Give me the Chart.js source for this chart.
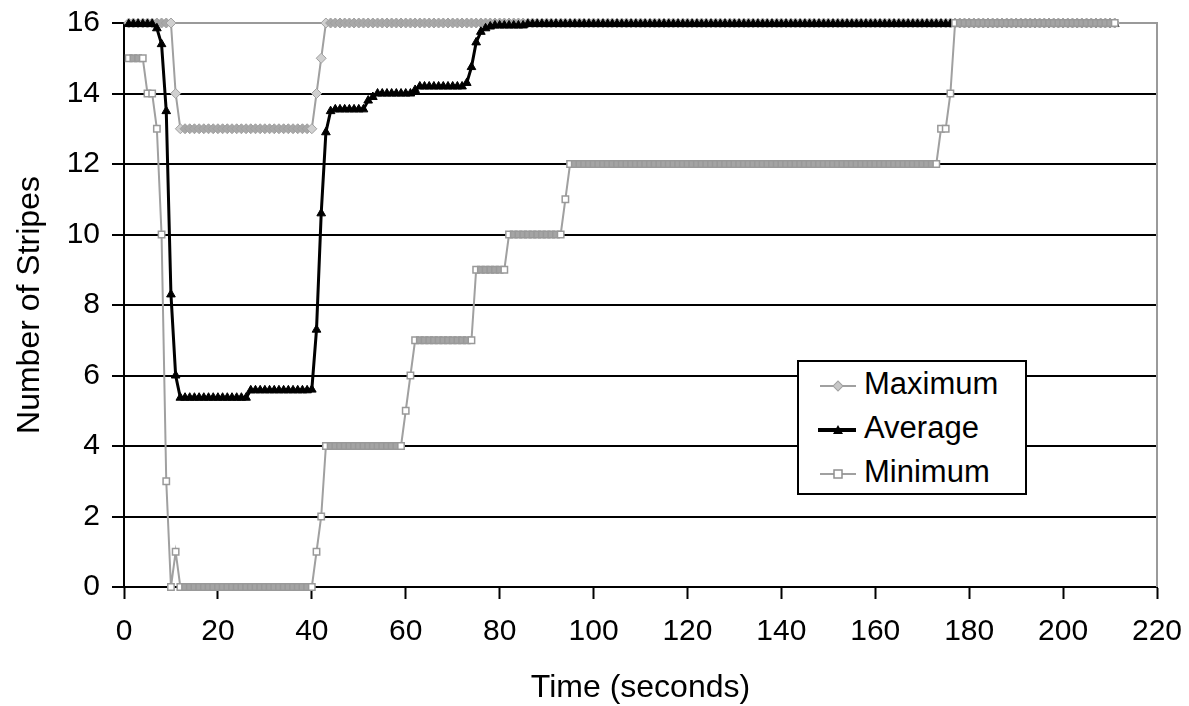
<!DOCTYPE html>
<html>
<head>
<meta charset="utf-8">
<title>Number of Stripes over time</title>
<script src="https://cdn.jsdelivr.net/npm/chart.js@4/dist/chart.umd.min.js"></script>
<style>
  html, body { margin: 0; padding: 0; background: #fff; }
  #wrap { position: relative; width: 1189px; height: 706px; }
  #legend {
    position: absolute; left: 797px; top: 360px; width: 226px; height: 131px;
    border: 2px solid #000; background: #fff;
    font-family: "Liberation Sans", Arial, sans-serif; font-size: 31px; color: #000;
  }
  #legend div { height: 44px; line-height: 44px; white-space: nowrap; }
  #legend svg { vertical-align: middle; margin-left: 19px; margin-right: 6px; }
</style>
</head>
<body>
<div id="wrap">
  <canvas id="stripesChart" width="1189" height="706"></canvas>
  <div id="legend">
    <div><svg width="40" height="20"><line x1="2" y1="10" x2="38" y2="10" stroke="#a0a0a0" stroke-width="2"/><rect x="16.5" y="6.5" width="7" height="7" fill="#c8c8c8" stroke="#a0a0a0" transform="rotate(45 20 10)"/></svg>Maximum</div>
    <div><svg width="40" height="20"><line x1="0" y1="10" x2="38" y2="10" stroke="#000" stroke-width="4"/><polygon points="20,5 25,14 15,14" fill="#000"/></svg>Average</div>
    <div><svg width="40" height="20"><line x1="2" y1="10" x2="38" y2="10" stroke="#a0a0a0" stroke-width="2"/><rect x="16" y="6" width="8" height="8" fill="#fff" stroke="#909090" stroke-width="1.5"/></svg>Minimum</div>
  </div>
</div>
<script>
// sample times (seconds)
const seconds = [
  1, 2, 3, 4, 5, 6, 7, 8, 9, 10, 11, 12, 13, 14, 15, 16, 17, 18, 19, 20,
  21, 22, 23, 24, 25, 26, 27, 28, 29, 30, 31, 32, 33, 34, 35, 36, 37, 38, 39, 40,
  41, 42, 43, 44, 45, 46, 47, 48, 49, 50, 51, 52, 53, 54, 55, 56, 57, 58, 59, 60,
  61, 62, 63, 64, 65, 66, 67, 68, 69, 70, 71, 72, 73, 74, 75, 76, 77, 78, 79, 80,
  81, 82, 83, 84, 85, 86, 87, 88, 89, 90, 91, 92, 93, 94, 95, 96, 97, 98, 99, 100,
  101, 102, 103, 104, 105, 106, 107, 108, 109, 110, 111, 112, 113, 114, 115, 116, 117, 118, 119, 120,
  121, 122, 123, 124, 125, 126, 127, 128, 129, 130, 131, 132, 133, 134, 135, 136, 137, 138, 139, 140,
  141, 142, 143, 144, 145, 146, 147, 148, 149, 150, 151, 152, 153, 154, 155, 156, 157, 158, 159, 160,
  161, 162, 163, 164, 165, 166, 167, 168, 169, 170, 171, 172, 173, 174, 175, 176, 177, 178, 179, 180,
  181, 182, 183, 184, 185, 186, 187, 188, 189, 190, 191, 192, 193, 194, 195, 196, 197, 198, 199, 200,
  201, 202, 203, 204, 205, 206, 207, 208, 209, 210, 211
];

const maximum = [
  16, 16, 16, 16, 16, 16, 16, 16, 16, 16, 14, 13, 13, 13, 13, 13, 13, 13, 13, 13,
  13, 13, 13, 13, 13, 13, 13, 13, 13, 13, 13, 13, 13, 13, 13, 13, 13, 13, 13, 13,
  14, 15, 16, 16, 16, 16, 16, 16, 16, 16, 16, 16, 16, 16, 16, 16, 16, 16, 16, 16,
  16, 16, 16, 16, 16, 16, 16, 16, 16, 16, 16, 16, 16, 16, 16, 16, 16, 16, 16, 16,
  16, 16, 16, 16, 16, 16, 16, 16, 16, 16, 16, 16, 16, 16, 16, 16, 16, 16, 16, 16,
  16, 16, 16, 16, 16, 16, 16, 16, 16, 16, 16, 16, 16, 16, 16, 16, 16, 16, 16, 16,
  16, 16, 16, 16, 16, 16, 16, 16, 16, 16, 16, 16, 16, 16, 16, 16, 16, 16, 16, 16,
  16, 16, 16, 16, 16, 16, 16, 16, 16, 16, 16, 16, 16, 16, 16, 16, 16, 16, 16, 16,
  16, 16, 16, 16, 16, 16, 16, 16, 16, 16, 16, 16, 16, 16, 16, 16, 16, 16, 16, 16,
  16, 16, 16, 16, 16, 16, 16, 16, 16, 16, 16, 16, 16, 16, 16, 16, 16, 16, 16, 16,
  16, 16, 16, 16, 16, 16, 16, 16, 16, 16, 16
];

const average = [
  15.97, 15.97, 15.97, 15.97, 15.97, 15.97, 15.85, 15.4, 13.5, 8.3, 6.0, 5.37, 5.37, 5.37, 5.37, 5.37, 5.37, 5.37, 5.37, 5.37,
  5.37, 5.37, 5.37, 5.37, 5.37, 5.37, 5.58, 5.58, 5.58, 5.58, 5.58, 5.58, 5.58, 5.58, 5.58, 5.58, 5.58, 5.58, 5.58, 5.6,
  7.3, 10.6, 12.9, 13.5, 13.55, 13.55, 13.55, 13.55, 13.55, 13.55, 13.55, 13.8, 13.9, 14.0, 14.0, 14.0, 14.0, 14.0, 14.0, 14.0,
  14.0, 14.1, 14.2, 14.2, 14.2, 14.2, 14.2, 14.2, 14.2, 14.2, 14.2, 14.2, 14.3, 14.75, 15.45, 15.75, 15.85, 15.9, 15.93, 15.93,
  15.93, 15.93, 15.93, 15.93, 15.93, 15.97, 15.97, 15.97, 15.97, 15.97, 15.97, 15.97, 15.97, 15.97, 15.97, 15.97, 15.97, 15.97, 15.97, 15.97,
  15.97, 15.97, 15.97, 15.97, 15.97, 15.97, 15.97, 15.97, 15.97, 15.97, 15.97, 15.97, 15.97, 15.97, 15.97, 15.97, 15.97, 15.97, 15.97, 15.97,
  15.97, 15.97, 15.97, 15.97, 15.97, 15.97, 15.97, 15.97, 15.97, 15.97, 15.97, 15.97, 15.97, 15.97, 15.97, 15.97, 15.97, 15.97, 15.97, 15.97,
  15.97, 15.97, 15.97, 15.97, 15.97, 15.97, 15.97, 15.97, 15.97, 15.97, 15.97, 15.97, 15.97, 15.97, 15.97, 15.97, 15.97, 15.97, 15.97, 15.97,
  15.97, 15.97, 15.97, 15.97, 15.97, 15.97, 15.97, 15.97, 15.97, 15.97, 15.97, 15.97, 15.97, 15.97, 15.97, 15.97, 15.97, 15.97, 15.97, 15.97,
  15.97, 15.97, 15.97, 15.97, 15.97, 15.97, 15.97, 15.97, 15.97, 15.97, 15.97, 15.97, 15.97, 15.97, 15.97, 15.97, 15.97, 15.97, 15.97, 15.97,
  15.97, 15.97, 15.97, 15.97, 15.97, 15.97, 15.97, 15.97, 15.97, 15.97, 15.97
];

const minimum = [
  15, 15, 15, 15, 14, 14, 13, 10, 3, 0, 1, 0, 0, 0, 0, 0, 0, 0, 0, 0,
  0, 0, 0, 0, 0, 0, 0, 0, 0, 0, 0, 0, 0, 0, 0, 0, 0, 0, 0, 0,
  1, 2, 4, 4, 4, 4, 4, 4, 4, 4, 4, 4, 4, 4, 4, 4, 4, 4, 4, 5,
  6, 7, 7, 7, 7, 7, 7, 7, 7, 7, 7, 7, 7, 7, 9, 9, 9, 9, 9, 9,
  9, 10, 10, 10, 10, 10, 10, 10, 10, 10, 10, 10, 10, 11, 12, 12, 12, 12, 12, 12,
  12, 12, 12, 12, 12, 12, 12, 12, 12, 12, 12, 12, 12, 12, 12, 12, 12, 12, 12, 12,
  12, 12, 12, 12, 12, 12, 12, 12, 12, 12, 12, 12, 12, 12, 12, 12, 12, 12, 12, 12,
  12, 12, 12, 12, 12, 12, 12, 12, 12, 12, 12, 12, 12, 12, 12, 12, 12, 12, 12, 12,
  12, 12, 12, 12, 12, 12, 12, 12, 12, 12, 12, 12, 12, 13, 13, 14, 16, 16, 16, 16,
  16, 16, 16, 16, 16, 16, 16, 16, 16, 16, 16, 16, 16, 16, 16, 16, 16, 16, 16, 16,
  16, 16, 16, 16, 16, 16, 16, 16, 16, 16, 16
];

const xTicks = { min: 0, max: 220, step: 20 };
const yTicks = { min: 0, max: 16, step: 2 };

const FONT = '"Liberation Sans", Arial, sans-serif';

// markers inside a flat run merge into a solid gray band, isolated ones keep their light fill
function bandFill(light, solid) {
  return function(c) {
    const d = c.dataset.data;
    const i = c.dataIndex;
    const inRun = i > 0 && i < d.length - 1 && d[i - 1] === d[i] && d[i + 1] === d[i];
    return inRun ? solid : light;
  };
}

// gray frame on the top and right side of the plot area
const plotFrame = {
  id: 'plotFrame',
  beforeDatasetsDraw(chart) {
    const a = chart.chartArea;
    const ctx = chart.ctx;
    ctx.save();
    ctx.strokeStyle = '#9a9a9a';
    ctx.lineWidth = 2;
    ctx.beginPath();
    ctx.moveTo(a.left, a.top);
    ctx.lineTo(a.right, a.top);
    ctx.lineTo(a.right, a.bottom);
    ctx.stroke();
    ctx.restore();
  }
};

document.addEventListener('DOMContentLoaded', function() {
  const ctx = document.getElementById('stripesChart');

  new Chart(ctx.getContext('2d'), {
    type: 'line',
    data: {
      labels: seconds,
      datasets: [{
        label: 'Maximum',
        data: maximum,
        borderColor: '#a0a0a0',
        borderWidth: 2,
        pointStyle: 'rectRot',
        pointRadius: 5,
        pointBackgroundColor: bandFill('#d0d0d0', '#a8a8a8'),
        pointBorderColor: '#a0a0a0',
        pointBorderWidth: 1,
        tension: 0,
        clip: 10,
        order: 3
      }, {
        label: 'Average',
        data: average,
        borderColor: '#000',
        borderWidth: 3,
        pointStyle: 'triangle',
        pointRadius: 5,
        pointBackgroundColor: '#000',
        pointBorderColor: '#000',
        pointBorderWidth: 1,
        tension: 0,
        clip: 10,
        order: 2
      }, {
        label: 'Minimum',
        data: minimum,
        borderColor: '#a0a0a0',
        borderWidth: 2,
        pointStyle: 'rect',
        pointRadius: 4.5,
        pointBackgroundColor: bandFill('#fff', '#a4a4a4'),
        pointBorderColor: '#999',
        pointBorderWidth: 1.5,
        tension: 0,
        clip: 10,
        order: 1
      }]
    },
    options: {
      responsive: false,
      animation: false,
      layout: { padding: { top: 23, right: 32, left: 0, bottom: 0 } },
      plugins: {
        legend: { display: false },
        tooltip: { enabled: false }
      },
      scales: {
        x: {
          type: 'linear',
          min: xTicks.min,
          max: xTicks.max,
          ticks: {
            stepSize: xTicks.step,
            color: '#000',
            padding: 15,
            maxRotation: 0,
            font: { family: FONT, size: 30 }
          },
          grid: {
            drawOnChartArea: false,
            drawTicks: true,
            tickLength: 12,
            tickColor: '#000',
            tickWidth: 2
          },
          border: { color: '#000', width: 2 },
          title: {
            display: true,
            text: 'Time (seconds)',
            color: '#000',
            font: { family: FONT, size: 32, lineHeight: 1.1 },
            padding: { top: 0, bottom: 0 }
          },
          afterFit(scale) {
            scale.height = 119;
            scale.paddingLeft = 0;
            scale.paddingRight = 0;
          }
        },
        y: {
          min: yTicks.min,
          max: yTicks.max,
          ticks: {
            stepSize: yTicks.step,
            color: '#000',
            padding: 12,
            font: { family: FONT, size: 30 }
          },
          grid: {
            color: c => (c.tick && c.tick.value === yTicks.max) ? '#9a9a9a' : '#000',
            lineWidth: 2,
            tickLength: 12,
            tickColor: '#000',
            tickWidth: 2
          },
          border: { color: '#000', width: 2 },
          title: {
            display: true,
            text: 'Number of Stripes',
            color: '#000',
            font: { family: FONT, size: 32, lineHeight: 1.1 },
            padding: { top: 13, bottom: 0 }
          },
          afterFit(scale) {
            scale.width = 124;
            scale.paddingTop = 0;
            scale.paddingBottom = 0;
          }
        }
      }
    },
    plugins: [plotFrame]
  });
});
</script>
</body>
</html>
